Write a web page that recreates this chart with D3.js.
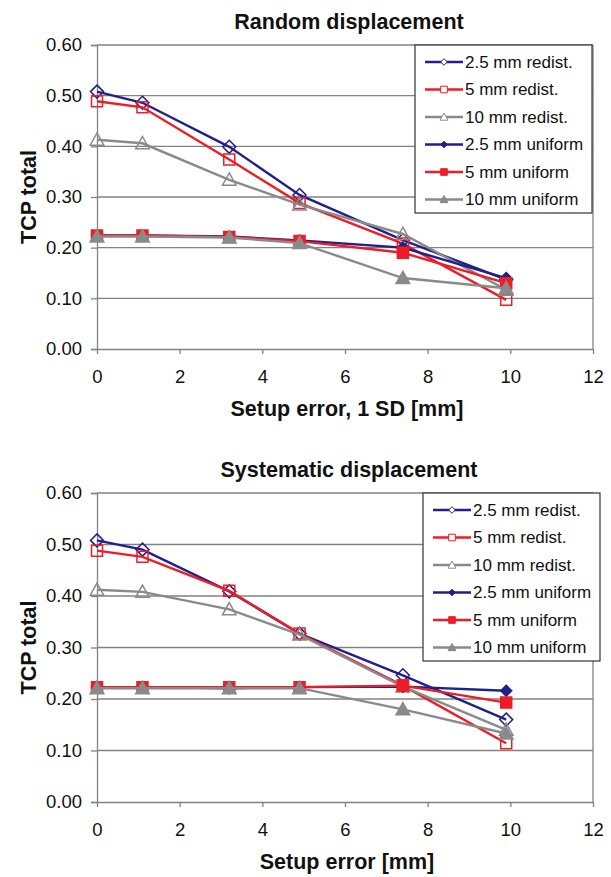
<!DOCTYPE html>
<html>
<head>
<meta charset="utf-8">
<script src="https://cdn.jsdelivr.net/npm/d3@7"></script>
<style>
  body { margin: 0; background: #fff; }
  svg { display: block; font-family: Arial, "Liberation Sans", sans-serif; }
  .tick-label { font-size: 18.5px; fill: #111; }
  .chart-title, .axis-title { font-size: 21.5px; font-weight: bold; fill: #111; }
  .legend-text { font-size: 17px; fill: #111; }
</style>
</head>
<body>
<svg id="chart" width="611" height="877"></svg>
<script>
const width = 611;
const height = 877;

// shared x values (setup error, mm)
const setupError = [0, 1.1, 3.2, 4.9, 7.4, 9.9];
const xTicks = [0, 2, 4, 6, 8, 10, 12];
const yTicks = [0, 0.1, 0.2, 0.3, 0.4, 0.5, 0.6];

const seriesLabels = [
  "2.5 mm redist.",
  "5 mm redist.",
  "10 mm redist.",
  "2.5 mm uniform",
  "5 mm uniform",
  "10 mm uniform",
];

// random displacement
const random25Redist = [0.508, 0.486, 0.399, 0.304, 0.215, 0.137];
const random5Redist = [0.489, 0.477, 0.374, 0.288, 0.208, 0.097];
const random10Redist = [0.413, 0.406, 0.334, 0.285, 0.227, 0.117];
const random25Uniform = [0.224, 0.224, 0.222, 0.214, 0.2, 0.14];
const random5Uniform = [0.224, 0.224, 0.221, 0.213, 0.19, 0.13];
const random10Uniform = [0.222, 0.222, 0.22, 0.209, 0.14, 0.12];

// systematic displacement
const syst25Redist = [0.508, 0.49, 0.409, 0.327, 0.246, 0.16];
const syst5Redist = [0.488, 0.476, 0.41, 0.327, 0.226, 0.114];
const syst10Redist = [0.412, 0.408, 0.374, 0.325, 0.224, 0.14];
const syst25Uniform = [0.223, 0.223, 0.221, 0.223, 0.224, 0.216];
const syst5Uniform = [0.223, 0.223, 0.223, 0.223, 0.226, 0.193];
const syst10Uniform = [0.221, 0.221, 0.221, 0.221, 0.18, 0.133];

const navy = "#20208a";
const red = "#ee1c24";
const grey = "#8a8a8a";
const gridColor = "#828282";

// marker style per series: shape, colour, filled
const styles = [
  { shape: "diamond", color: navy, filled: false },
  { shape: "square", color: red, filled: false },
  { shape: "triangle", color: grey, filled: false },
  { shape: "diamond", color: navy, filled: true },
  { shape: "square", color: red, filled: true },
  { shape: "triangle", color: grey, filled: true },
];

function markerPath(shape, r) {
  if (shape === "diamond") {
    return `M0,${-r}L${r},0L0,${r}L${-r},0Z`;
  }
  if (shape === "square") {
    return `M${-r},${-r}H${r}V${r}H${-r}Z`;
  }
  // triangle
  return `M0,${-r}L${r},${r * 0.8}H${-r}Z`;
}

const svg = d3.select("#chart");

function drawChart(cfg) {
  const x = d3.scaleLinear().domain([0, 12]).range([97, 593]);
  const y = d3.scaleLinear().domain([0, 0.6]).range([cfg.bottom, cfg.top]);

  const g = svg.append("g").attr("class", "chart");

  // gridlines
  g.selectAll(".grid")
    .data(yTicks.slice(1))
    .join("line")
    .attr("x1", x(0))
    .attr("x2", x(12))
    .attr("y1", (d) => y(d))
    .attr("y2", (d) => y(d))
    .attr("stroke", gridColor)
    .attr("stroke-width", 1.3);

  // right border
  g.append("line")
    .attr("x1", x(12))
    .attr("x2", x(12))
    .attr("y1", y(0.6))
    .attr("y2", y(0))
    .attr("stroke", gridColor)
    .attr("stroke-width", 1.3);

  // y axis
  const yAxis = d3
    .axisLeft(y)
    .tickValues(yTicks)
    .tickSize(6)
    .tickFormat(d3.format(".2f"));
  const yg = g.append("g").attr("transform", `translate(${x(0)},0)`).call(yAxis);
  yg.attr("font-family", null).attr("font-size", null);
  yg.select(".domain").attr("stroke", gridColor).attr("stroke-width", 1.3);
  yg.selectAll(".tick line").attr("stroke", gridColor).attr("stroke-width", 1.3);
  yg.selectAll(".tick text").attr("class", "tick-label").attr("x", -15);

  // x axis
  const xAxis = d3.axisBottom(x).tickValues(xTicks).tickSize(5).tickSizeOuter(0);
  const xg = g.append("g").attr("transform", `translate(0,${y(0)})`).call(xAxis);
  xg.attr("font-family", null).attr("font-size", null);
  xg.select(".domain").attr("stroke", gridColor).attr("stroke-width", 1.3);
  xg.selectAll(".tick line").attr("stroke", gridColor).attr("stroke-width", 1.3);
  xg.selectAll(".tick text").attr("class", "tick-label").attr("y", 21);

  // series lines
  const line = d3
    .line()
    .x((d) => x(d[0]))
    .y((d) => y(d[1]));

  cfg.series.forEach((values, i) => {
    const st = styles[i];
    const pts = setupError.map((v, j) => [v, values[j]]);
    const sg = g.append("g").attr("class", "series");
    sg.append("path")
      .attr("d", line(pts))
      .attr("fill", "none")
      .attr("stroke", st.color)
      .attr("stroke-width", 2.4);
    const r = st.shape === "square" ? 5.5 : st.shape === "diamond" ? (st.filled ? 5.5 : 6.5) : 6.8;
    sg.selectAll(".marker")
      .data(pts)
      .join("path")
      .attr("d", markerPath(st.shape, r))
      .attr("transform", (d) => `translate(${x(d[0])},${y(d[1])})`)
      .attr("fill", st.filled ? st.color : "none")
      .attr("stroke", st.color)
      .attr("stroke-width", 1.5);
  });

  // title
  g.append("text")
    .attr("class", "chart-title")
    .attr("text-anchor", "middle")
    .attr("x", 349)
    .attr("y", cfg.top - 16)
    .text(cfg.title);

  // axis titles
  g.append("text")
    .attr("class", "axis-title")
    .attr("text-anchor", "middle")
    .attr("x", 347)
    .attr("y", y(0) + 67)
    .text(cfg.xTitle);

  g.append("text")
    .attr("class", "axis-title")
    .attr("text-anchor", "middle")
    .attr("transform", `translate(36,${(y(0) + y(0.6)) / 2}) rotate(-90)`)
    .text("TCP total");

  // legend
  const legend = g
    .append("g")
    .attr("transform", `translate(${cfg.legendX},${cfg.top})`);

  legend
    .append("rect")
    .attr("width", 177)
    .attr("height", 168)
    .attr("fill", "#fff")
    .attr("stroke", "#333")
    .attr("stroke-width", 1.2);

  const items = legend
    .selectAll(".item")
    .data(seriesLabels)
    .join("g")
    .attr("transform", (d, i) => `translate(0,${17 + i * 27.5})`);

  items
    .append("line")
    .attr("x1", 10)
    .attr("x2", 48)
    .attr("stroke", (d, i) => styles[i].color)
    .attr("stroke-width", 2.4);

  items
    .append("path")
    .attr("d", (d, i) => markerPath(styles[i].shape, styles[i].shape === "triangle" ? 4 : 3.3))
    .attr("transform", "translate(29,0)")
    .attr("fill", (d, i) => (styles[i].filled ? styles[i].color : "#fff"))
    .attr("stroke", (d, i) => styles[i].color)
    .attr("stroke-width", 1);

  items
    .append("text")
    .attr("class", "legend-text")
    .attr("x", 50)
    .attr("dy", "0.35em")
    .text((d) => d);
}

drawChart({
  title: "Random displacement",
  xTitle: "Setup error, 1 SD [mm]",
  top: 45,
  bottom: 349,
  legendX: 415,
  series: [
    random25Redist,
    random5Redist,
    random10Redist,
    random25Uniform,
    random5Uniform,
    random10Uniform,
  ],
});

drawChart({
  title: "Systematic displacement",
  xTitle: "Setup error [mm]",
  top: 493,
  bottom: 802,
  legendX: 423,
  series: [
    syst25Redist,
    syst5Redist,
    syst10Redist,
    syst25Uniform,
    syst5Uniform,
    syst10Uniform,
  ],
});
</script>
</body>
</html>
